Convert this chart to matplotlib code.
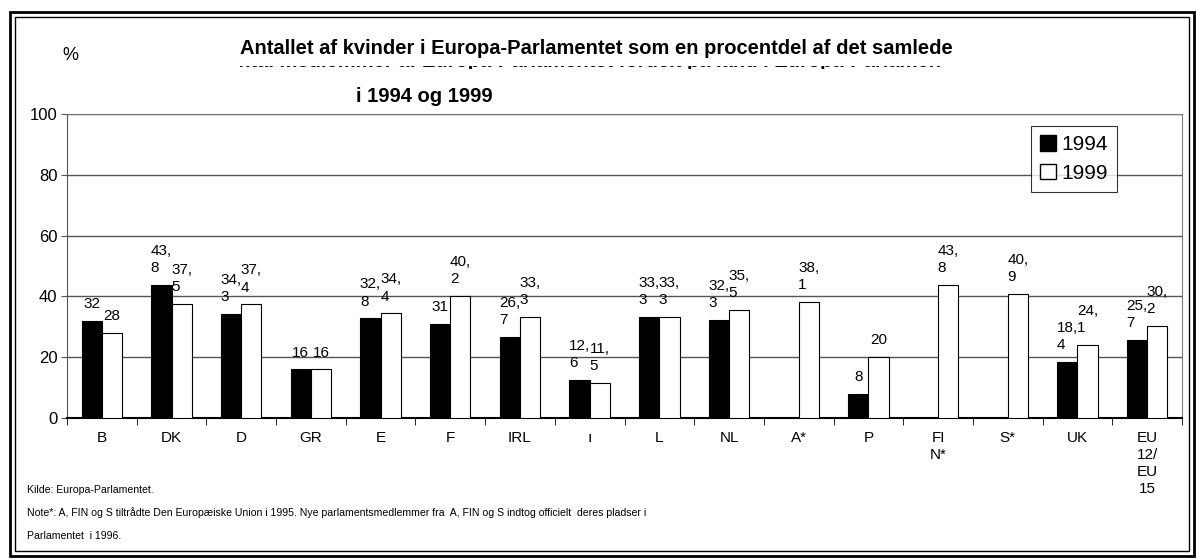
import numpy as np
import matplotlib
matplotlib.use('Agg')
import matplotlib.pyplot as plt
from matplotlib.patches import Rectangle
from matplotlib.transforms import Bbox

plt.rcParams['font.family'] = ['Liberation Sans', 'DejaVu Sans']

# data
countries = ['B', 'DK', 'D', 'GR', 'E', 'F', 'IRL', 'I', 'L', 'NL',
             'A*', 'P', 'FIN*', 'S*', 'UK', 'EU12/EU15']
tick_labels = ['B', 'DK', 'D', 'GR', 'E', 'F', 'IRL', 'ı', 'L', 'NL',
               'A*', 'P', 'FI\nN*', 'S*', 'UK', 'EU\n12/\nEU\n15']
women_1994 = [32, 43.8, 34.3, 16, 32.8, 31, 26.7, 12.6, 33.3, 32.3,
              None, 8, None, None, 18.4, 25.7]
women_1999 = [28, 37.5, 37.4, 16, 34.4, 40.2, 33.3, 11.5, 33.3, 35.5,
              38.1, 20, 43.8, 40.9, 24.1, 30.2]


def fmt(v):
    # excel-style wrapped labels: "43,\n8"
    if float(v).is_integer():
        return str(int(v))
    a, b = f'{v:.1f}'.split('.')
    return a + ',\n' + b


W, H = 1197, 560
fig = plt.figure(figsize=(W / 100, H / 100), dpi=100)

# double frame around the whole chart
fig.patches.append(Rectangle((10 / W, 4 / H), 1184 / W, 544 / H, transform=fig.transFigure,
                             fill=False, lw=2, ec='black'))
fig.patches.append(Rectangle((15 / W, 9 / H), 1174 / W, 534 / H, transform=fig.transFigure,
                             fill=False, lw=1, ec='black'))

left, right, top, bottom = 67, 1182, 114, 418
ax = fig.add_axes([left / W, 1 - bottom / H, (right - left) / W, (bottom - top) / H])

x = np.arange(len(countries))
w = 0.29
v94 = np.array([np.nan if v is None else v for v in women_1994], dtype=float)
v99 = np.array(women_1999, dtype=float)

ax.bar(x - w / 2, v94, w, color='black', edgecolor='black', lw=0.8, zorder=3)
ax.bar(x + w / 2, v99, w, color='white', edgecolor='black', lw=0.8, zorder=3)

for xi, v in zip(x, women_1994):
    if v is None:
        continue
    ax.annotate(fmt(v), (xi - w / 2, v), xytext=(0, 7), textcoords='offset points',
                ha='center', va='bottom', multialignment='left', fontsize=11, linespacing=1.3)
for xi, v in zip(x, women_1999):
    ax.annotate(fmt(v), (xi + w / 2, v), xytext=(0, 7), textcoords='offset points',
                ha='center', va='bottom', multialignment='left', fontsize=11, linespacing=1.3)

ax.set_xlim(-0.5, len(countries) - 0.5)
ax.set_ylim(0, 100)
ax.set_yticks(range(0, 101, 20))
ax.tick_params(axis='y', labelsize=12, length=4, color='#555555', pad=3)
ax.yaxis.grid(True, color='#555555', lw=1)
ax.set_axisbelow(True)

ax.set_xticks(x)
ax.set_xticklabels(tick_labels, fontsize=11, linespacing=1.3, va='top')
ax.tick_params(axis='x', length=0, pad=9)
ax.set_xticks(np.arange(-0.5, len(countries)), minor=True)
ax.tick_params(axis='x', which='minor', length=5, color='black', direction='out')

for s in ['top', 'right']:
    ax.spines[s].set_color('#777777')
ax.spines['left'].set_color('#555555')
ax.spines['bottom'].set_color('black')
ax.spines['bottom'].set_linewidth(1.5)

leg_h = [Rectangle((0, 0), 1, 1, fc='black', ec='black'),
         Rectangle((0, 0), 1, 1, fc='white', ec='black')]
leg = ax.legend(leg_h, ['1994', '1999'], loc='upper left',
                bbox_to_anchor=((1031 - left) / (right - left), 1 - (126 - top) / (bottom - top)),
                fontsize=15, frameon=True, fancybox=False, edgecolor='black',
                handlelength=0.75, handleheight=0.75, handletextpad=0.25,
                borderpad=0.45, labelspacing=0.45, borderaxespad=0)
leg.get_frame().set_linewidth(0.8)

# titles; the second line is hidden in the original, only its foot shows
fig.text(596 / W, 1 - 48 / H,
         'Antallet af kvinder i Europa-Parlamentet som en procentdel af det samlede',
         ha='center', va='center', fontsize=14.5, fontweight='bold')
t2 = fig.text(596 / W, 1 - 61 / H,
              'antal medlemmer af Europa-Parlamentet fordelt på land i Europa-Parlamentet',
              ha='center', va='center', fontsize=14.5, fontweight='bold')
t2.set_clip_box(Bbox.from_extents(240, H - 69, 940, H - 66))
t2.set_clip_on(True)
fig.text(424 / W, 1 - 97 / H, 'i 1994 og 1999', ha='center', va='center',
         fontsize=14.5, fontweight='bold')
fig.text(70 / W, 1 - 55 / H, '%', ha='center', va='center', fontsize=13)

# notes
fig.text(27 / W, 1 - 490 / H, 'Kilde: Europa-Parlamentet.', ha='left', va='center', fontsize=7.6)
fig.text(27 / W, 1 - 513 / H,
         'Note*: A, FIN og S tiltrådte Den Europæiske Union i 1995. Nye parlamentsmedlemmer fra  A, '
         'FIN og S indtog officielt  deres pladser i', ha='left', va='center', fontsize=7.6)
fig.text(27 / W, 1 - 536 / H, 'Parlamentet  i 1996.', ha='left', va='center', fontsize=7.6)

fig.savefig('out.png', dpi=100)
